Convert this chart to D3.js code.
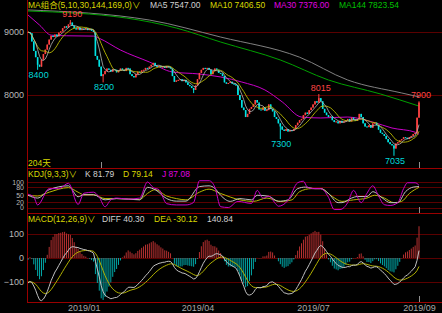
<!DOCTYPE html>
<html>
<head>
<meta charset="utf-8">
<script src="https://cdn.jsdelivr.net/npm/d3@7"></script>
<style>
  body { margin: 0; background: #000; }
  svg { display: block; }
  text { font-family: "Liberation Sans", "Noto Sans CJK SC", sans-serif; }
</style>
</head>
<body>
<svg id="chart" width="442" height="313"></svg>
<script>
// daily closes (204 bars)
var closes = [
  9000, 8980, 8850, 8700, 8600, 8480, 8450, 8560, 8650, 8720,
  8800, 8880, 8940, 8920, 8960, 8930, 8990, 9010, 9060, 9090,
  9070, 9120, 9150, 9100, 9060, 9040, 9070, 9030, 9050, 9040,
  9060, 9030, 9050, 9020, 9000, 8620, 8560, 8450, 8300, 8330,
  8380, 8420, 8400, 8370, 8410, 8400, 8360, 8390, 8420, 8400,
  8380, 8430, 8420, 8330, 8300, 8280, 8330, 8370, 8360, 8390,
  8400, 8430, 8420, 8450, 8480, 8510, 8460, 8450, 8460, 8440,
  8450, 8430, 8460, 8440, 8420, 8300, 8210, 8230, 8240, 8250,
  8220, 8240, 8200, 8160, 8140, 8110, 8080, 8150, 8250, 8350,
  8400, 8430, 8420, 8430, 8400, 8330, 8380, 8420, 8400, 8350,
  8340, 8300, 8200, 8180, 8190, 8210, 8180, 8170, 8150, 8000,
  7920, 7800, 7760, 7650, 7700, 7780, 7810, 7850, 7920, 7880,
  7770, 7760, 7800, 7750, 7760, 7850, 7780, 7740, 7650, 7620,
  7550, 7500, 7450, 7430, 7460, 7420, 7440, 7430, 7460, 7520,
  7560, 7600, 7620, 7680, 7720, 7700, 7760, 7800, 7850, 7900,
  7880, 7950, 7900, 7780, 7720, 7680, 7650, 7660, 7600, 7570,
  7580, 7550, 7590, 7560, 7580, 7600, 7620, 7580, 7640, 7610,
  7590, 7620, 7700, 7650, 7550, 7500, 7490, 7520, 7480, 7550,
  7560, 7520, 7450, 7400, 7380, 7350, 7300, 7250, 7220, 7200,
  7150, 7230, 7250, 7280, 7300, 7330, 7320, 7300, 7330, 7350,
  7380, 7400, 7640, 7880
];

// marked highs / lows [bar, price]
var markHighs = [[22, 9190], [151, 8015], [203, 7900]];
var markLows = [[5, 8400], [39, 8200], [131, 7300], [190, 7035]];
var extraLows = [[86, 8030]];

// long moving averages [bar, value]
var ma30Read = [[0, 9270], [6, 9110], [12, 8950], [20, 8940], [34, 8935], [37, 8900],
  [48, 8714], [63, 8524], [75, 8365], [89, 8333], [100, 8286], [111, 8206], [123, 8080],
  [132, 7890], [142, 7650], [152, 7635], [166, 7650], [179, 7570], [189, 7476], [201, 7410], [203, 7376]];
var ma144Read = [[0, 9333], [51, 9222], [77, 9063], [100, 8841], [131, 8556], [156, 8238], [183, 8016], [203, 7824]];
var ma169Read = [[0, 9350], [63, 9190], [100, 8920], [141, 8600], [166, 8238], [194, 8032], [203, 7970]];

// KDJ lines [bar, value]
var kRead = [[0, 48], [5, 37], [11, 70], [21, 85], [26, 42], [29, 50], [34, 50], [40, 30], [46, 35],
  [58, 30], [62, 79], [66, 70], [72, 35], [77, 25], [82, 25], [89, 82], [94, 85], [97, 75], [100, 48],
  [105, 24], [110, 35], [116, 30], [119, 48], [125, 44], [130, 24], [135, 30], [140, 74], [144, 80],
  [149, 74], [152, 74], [156, 55], [161, 19], [163, 19], [168, 37], [171, 43], [176, 43], [179, 62],
  [184, 37], [188, 19], [192, 19], [196, 62], [200, 80], [203, 82]];
var dRead = [[0, 48], [5, 45], [11, 60], [21, 78], [26, 60], [29, 50], [34, 50], [40, 35], [46, 35],
  [58, 32], [62, 55], [66, 70], [72, 45], [77, 35], [82, 30], [89, 60], [94, 72], [100, 55], [110, 30],
  [117, 24], [124, 37], [131, 24], [137, 30], [141, 62], [147, 74], [152, 74], [158, 43], [163, 24],
  [169, 30], [176, 37], [180, 48], [185, 37], [190, 19], [194, 24], [198, 55], [203, 79]];
var jRead = [[0, 52], [3, 41], [5, 10], [11, 74], [16, 74], [21, 95], [26, 12], [29, 56], [34, 60],
  [37, 40], [40, 3], [43, 30], [46, 37], [52, 33], [58, 37], [62, 100], [65, 78], [68, 70], [72, 15],
  [77, 10], [82, 10], [86, 20], [89, 105], [94, 105], [97, 80], [100, 3], [104, 0], [109, 24],
  [116, 16], [119, 67], [122, 37], [125, 44], [129, 11], [130, 5], [135, 28], [140, 97], [143, 103],
  [145, 80], [148, 74], [152, 74], [156, 40], [159, -8], [162, -8], [166, 19], [169, 67], [173, 19],
  [176, 56], [179, 85], [182, 45], [185, 11], [188, 8], [192, 19], [195, 74], [197, 97], [201, 97], [203, 87]];

// DIFF and DEA at the first bar
var macdStart = [-104, -100];

var dateTicks = [29, 88, 148, 203];
var dateLabels = ['2019/01', '2019/04', '2019/07', '2019/09'];
var priceTicks = [8000, 9000];
var kdjTicks = [0, 20, 50, 80, 100];
var macdTicks = [-100, 0, 100];

var mainLegend = [['MA组合(5,10,30,144,169,0)\u2228', '#d8d800'], ['MA5 7547.00', '#d0d0d0'],
  ['MA10 7406.50', '#d8d800'], ['MA30 7376.00', '#e000e0'], ['MA144 7823.54', '#00c000']];
var kdjLegend = [['KDJ(9,3,3)\u2228', '#d8d800'], ['K 81.79', '#d0d0d0'], ['D 79.14', '#d8d800'], ['J 87.08', '#e000e0']];
var macdLegend = [['MACD(12,26,9)\u2228', '#d8d800'], ['DIFF 40.30', '#d0d0d0'], ['DEA -30.12', '#d8d800'], ['140.84', '#d0d0d0']];
var daysLabel = '204天';

// layout
var mainLegendX = [28, 150, 210, 274, 339];
var kdjLegendX = [28, 85, 123, 162];
var macdLegendX = [28, 102, 154, 207];
var UP = '#ff4242', DOWN = '#00e4e4', FRAME = '#9a0000', GRID = '#5a0000';

var svg = d3.select('#chart');
var n = closes.length;

// build bars
var bars = closes.map(function (c, i) {
  var o = i ? closes[i - 1] : c;
  return { i: i, o: o, c: c, h: Math.max(o, c), l: Math.min(o, c) };
});
markHighs.forEach(function (m) { bars[m[0]].h = Math.max(bars[m[0]].h, m[1]); });
markLows.concat(extraLows).forEach(function (m) { bars[m[0]].l = Math.min(bars[m[0]].l, m[1]); });

function sma(arr, p) {
  return arr.map(function (v, i) {
    var s = Math.max(0, i - p + 1), sum = 0;
    for (var k = s; k <= i; k++) sum += arr[k];
    return sum / (i - s + 1);
  });
}
function ema(arr, p, seed) {
  var a = 2 / (p + 1), out = [], prev = seed;
  arr.forEach(function (v, i) { prev = i ? prev + a * (v - prev) : seed; out.push(prev); });
  return out;
}

var ma5 = sma(closes, 5), ma10 = sma(closes, 10);

// MACD(12,26,9)
var e12 = ema(closes, 12, closes[0]), e26 = ema(closes, 26, closes[0] - macdStart[0]);
var diff = e12.map(function (v, i) { return v - e26[i]; });
var dea = ema(diff, 9, macdStart[1]);
var hist = diff.map(function (v, i) { return 2 * (v - dea[i]); });

// scales
var x = d3.scaleLinear().domain([0, n - 1]).range([28, 419]);
var yMain = d3.scaleLinear().domain([6841, 9508]).range([168, 0]);
var yKdj = d3.scaleLinear().domain([0, 100]).range([207.5, 182]);
var yMacd = d3.scaleLinear().domain([-100, 100]).range([282, 234]);

var defs = svg.append('defs');
function clip(id, y0, y1) {
  defs.append('clipPath').attr('id', id).append('rect')
    .attr('x', 27.5).attr('y', y0).attr('width', 415).attr('height', y1 - y0);
  return 'url(#' + id + ')';
}

// grids with axes
function gridAxis(scale, vals, size) {
  var g = svg.append('g').attr('transform', 'translate(27,0)')
    .call(d3.axisLeft(scale).tickValues(vals).tickFormat(d3.format('d')).tickSize(-415).tickPadding(3));
  g.select('.domain').remove();
  g.selectAll('line').attr('stroke', GRID).attr('shape-rendering', 'crispEdges');
  g.selectAll('text').attr('fill', '#b8b8b8').style('font-size', size + 'px')
    .style('font-family', '"Liberation Sans", sans-serif');
  return g;
}
gridAxis(yMain, priceTicks, 9);
gridAxis(yKdj, kdjTicks, 7);
gridAxis(yMacd, macdTicks, 9);

// frame
var frame = svg.append('g').attr('stroke', FRAME).attr('shape-rendering', 'crispEdges');
frame.append('line').attr('x1', 27.5).attr('x2', 27.5).attr('y1', 0).attr('y2', 302.5);
[168.5, 213.5, 302.5].forEach(function (y) {
  frame.append('line').attr('x1', 27).attr('x2', 442).attr('y1', y).attr('y2', y);
});

// main panel
var main = svg.append('g').attr('clip-path', clip('cMain', 0, 168));
var line = function (ys) {
  return d3.line().x(function (d, i) { return x(i); }).y(function (d) { return ys(d); });
};
var readLine = function (ys) {
  return d3.line().curve(d3.curveMonotoneX)
    .x(function (d) { return x(d[0]); }).y(function (d) { return ys(d[1]); });
};

main.append('path').attr('d', readLine(yMain)(ma169Read)).attr('fill', 'none').attr('stroke', '#808080');
main.append('path').attr('d', readLine(yMain)(ma144Read)).attr('fill', 'none').attr('stroke', '#00a000');
main.append('path').attr('d', readLine(yMain)(ma30Read)).attr('fill', 'none').attr('stroke', '#c800c8');

var candle = main.selectAll('g.bar').data(bars).enter().append('g').attr('class', 'bar');
candle.append('line')
  .attr('x1', function (d) { return x(d.i); }).attr('x2', function (d) { return x(d.i); })
  .attr('y1', function (d) { return yMain(d.h); }).attr('y2', function (d) { return yMain(d.l); })
  .attr('stroke', function (d) { return d.c >= d.o ? UP : DOWN; }).attr('stroke-width', 1);
candle.append('rect')
  .attr('x', function (d) { return x(d.i) - 0.8; }).attr('width', 1.6)
  .attr('y', function (d) { return yMain(Math.max(d.o, d.c)); })
  .attr('height', function (d) { return Math.max(1, Math.abs(yMain(d.o) - yMain(d.c))); })
  .attr('fill', function (d) { return d.c >= d.o ? UP : DOWN; });

main.append('path').attr('d', line(yMain)(ma10)).attr('fill', 'none').attr('stroke', '#b8b800').attr('stroke-width', 0.9);
main.append('path').attr('d', line(yMain)(ma5)).attr('fill', 'none').attr('stroke', '#b8b8b8').attr('stroke-width', 0.8);

// high / low labels
svg.selectAll('text.hi').data(markHighs).enter().append('text').attr('class', 'hi')
  .attr('x', function (d) { return x(d[0]) + 2; }).attr('y', function (d) { return yMain(d[1]) - 3; })
  .attr('text-anchor', 'middle').attr('fill', '#ff4444').style('font-size', '9px')
  .text(function (d) { return d[1]; });
svg.selectAll('text.lo').data(markLows).enter().append('text').attr('class', 'lo')
  .attr('x', function (d) { return x(d[0]) + 1; }).attr('y', function (d) { return yMain(d[1]) + 8; })
  .attr('text-anchor', 'middle').attr('fill', '#00d8d8').style('font-size', '9px')
  .text(function (d) { return d[1]; });

// KDJ panel
var kdj = svg.append('g').attr('clip-path', clip('cKdj', 179, 213));
kdj.append('path').attr('d', readLine(yKdj)(dRead)).attr('fill', 'none').attr('stroke', '#b8b800');
kdj.append('path').attr('d', readLine(yKdj)(kRead)).attr('fill', 'none').attr('stroke', '#c0c0c0');
kdj.append('path').attr('d', readLine(yKdj)(jRead)).attr('fill', 'none').attr('stroke', '#c800c8');

// MACD panel
var macd = svg.append('g').attr('clip-path', clip('cMacd', 223, 302));
macd.selectAll('line.h').data(hist).enter().append('line').attr('class', 'h')
  .attr('x1', function (d, i) { return x(i); }).attr('x2', function (d, i) { return x(i); })
  .attr('y1', yMacd(0)).attr('y2', function (d) { return yMacd(d); })
  .attr('stroke', function (d) { return d >= 0 ? '#b83030' : '#00aaaa'; }).attr('stroke-width', 1);
macd.append('path').attr('d', line(yMacd)(dea)).attr('fill', 'none').attr('stroke', '#b0b000');
macd.append('path').attr('d', line(yMacd)(diff)).attr('fill', 'none').attr('stroke', '#c0c0c0');

// cursor ticks
var ticks = svg.append('g').attr('stroke', '#909090').attr('shape-rendering', 'crispEdges');
[[n - 1, 162, 168], [n - 1, 207, 213], [n - 1, 296, 302], [38.4, 162, 168]].forEach(function (t) {
  ticks.append('line').attr('x1', x(t[0])).attr('x2', x(t[0])).attr('y1', t[1]).attr('y2', t[2]);
});

// date axis
var xa = svg.append('g').attr('transform', 'translate(0,302)')
  .call(d3.axisBottom(x).tickValues(dateTicks).tickSize(0).tickPadding(3)
    .tickFormat(function (d, i) { return dateLabels[i]; }));
xa.select('.domain').remove();
xa.selectAll('text').attr('fill', '#a8a8a8').style('font-size', '9px')
  .style('font-family', '"Liberation Sans", sans-serif');

// legends
function legend(items, xs, y) {
  items.forEach(function (it, k) {
    svg.append('text').attr('x', xs[k]).attr('y', y).attr('fill', it[1])
      .style('font-size', '8.5px').text(it[0]);
  });
}
legend(mainLegend, mainLegendX, 8);
legend(kdjLegend, kdjLegendX, 177);
legend(macdLegend, macdLegendX, 222);
svg.append('text').attr('x', 28).attr('y', 166).attr('fill', '#d8d800').style('font-size', '8.5px').text(daysLabel);
</script>
</body>
</html>
